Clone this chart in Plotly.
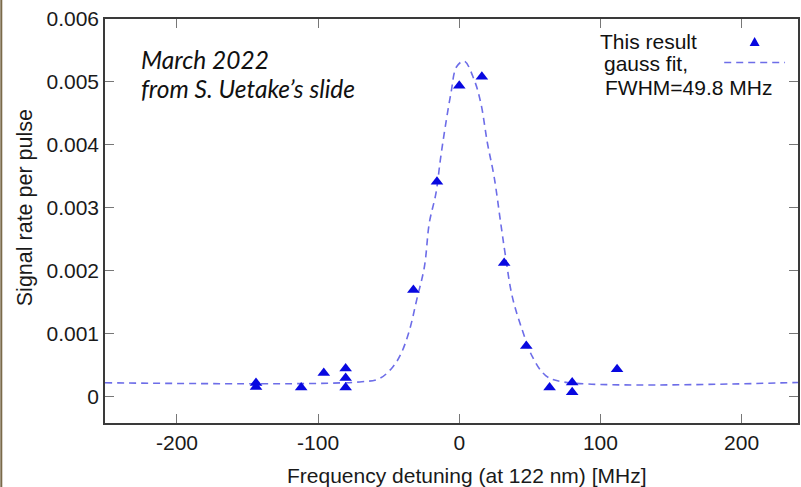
import plotly.graph_objects as go

# ---- data ----
detuning_mhz = [-144, -144, -112, -96, -80.5, -80.5, -80.5, -32.5, -15.8, 0, 16, 31.8, 47.5, 64, 80, 80, 111.8]
signal_rate = [0.000212, 0.000148, 0.000138, 0.000371, 0.000441, 0.000292, 0.000138,
               0.00169, 0.00341, 0.00494, 0.00508, 0.00212, 0.00080, 0.000138, 0.000218, 0.000064, 0.00043]

fit_x = [-251, -70.6, -56.5, -47.1, -41.2, -35.3, -30.2, -24.7, -21.2, -16.5, -13.4, -9.9, -5.9, -1.9, 3.5,
         10.6, 15.3, 20.0, 24.7, 29.4, 32.5, 37.6, 44.7, 51.8, 61.2, 73.0, 240]
fit_y = [0.000215, 0.000228, 0.000282, 0.000467, 0.00068, 0.00105, 0.00153, 0.00206, 0.00276, 0.00323, 0.00376,
         0.00429, 0.00482, 0.00524, 0.00533, 0.00503, 0.00466, 0.00402, 0.00349, 0.00275, 0.00227, 0.00158,
         0.00105, 0.00063, 0.00033, 0.00023, 0.00022]

x_ticks = [-200, -100, 0, 100, 200]
x_tick_text = ["-200", "-100", "0", "100", "200"]
y_ticks = [0, 0.001, 0.002, 0.003, 0.004, 0.005, 0.006]
y_tick_text = ["0", "0.001", "0.002", "0.003", "0.004", "0.005", "0.006"]

x_title = "Frequency detuning (at 122 nm) [MHz]"
y_title = "Signal rate per pulse"
legend_data = "This result"
legend_fit_1 = "gauss fit,"
legend_fit_2 = "FWHM=49.8 MHz"
note_1 = "March 2022"
note_2 = "from S. Uetake\u2019s slide"

# ---- layout geometry (pixels) ----
W, H = 801, 487
L, R, T, B = 105, 800, 19, 423


def px(xp):
    return (xp - L) / (R - L)


def py(yp):
    return (B - yp) / (B - T)


FONT = "Liberation Sans, Arial, sans-serif"
FS = 21

fig = go.Figure()
fig.add_trace(go.Scatter(
    x=fit_x, y=fit_y, mode="lines", line=dict(color="#6d6de8", width=1.6, dash="7px,5px", shape="spline"),
    showlegend=False, hoverinfo="skip"))
fig.add_trace(go.Scatter(
    x=detuning_mhz, y=signal_rate, mode="markers",
    marker=dict(symbol="triangle-up", size=11, color="#0808e0", line=dict(width=0)),
    showlegend=False))

axis_common = dict(showline=True, linecolor="#3a3a3a", linewidth=1.5, mirror="ticks",
                   ticks="inside", ticklen=9, tickcolor="#777777", tickwidth=1,
                   showgrid=False, zeroline=False,
                   tickfont=dict(family=FONT, size=FS, color="#1a1a1a"))

fig.update_xaxes(range=[-251, 240], tickvals=x_ticks, ticktext=x_tick_text, **axis_common)
fig.update_yaxes(range=[-0.000425, 0.006], tickvals=y_ticks, ticktext=y_tick_text, **axis_common)

ann = []
ann.append(dict(text=x_title, x=px(468), y=py(476), xref="paper", yref="paper", showarrow=False,
                xanchor="center", yanchor="middle", font=dict(family=FONT, size=FS, color="#1a1a1a")))
ann.append(dict(text=y_title, x=px(25), y=py(208), xref="paper", yref="paper", showarrow=False, textangle=-90,
                xanchor="center", yanchor="middle", font=dict(family=FONT, size=21.5, color="#1a1a1a")))
ann.append(dict(text=legend_data, x=px(599), y=py(41.5), xref="paper", yref="paper", showarrow=False,
                xanchor="left", yanchor="middle", font=dict(family=FONT, size=FS, color="#111111")))
ann.append(dict(text=legend_fit_1, x=px(603), y=py(64), xref="paper", yref="paper", showarrow=False,
                xanchor="left", yanchor="middle", font=dict(family=FONT, size=FS, color="#111111")))
ann.append(dict(text=legend_fit_2, x=px(604), y=py(87.5), xref="paper", yref="paper", showarrow=False,
                xanchor="left", yanchor="middle", font=dict(family=FONT, size=FS, color="#111111")))
ann.append(dict(text="<i>" + note_1 + "</i>", x=px(139), y=py(60), xref="paper", yref="paper", showarrow=False,
                xanchor="left", yanchor="middle", font=dict(family="Lato, sans-serif", size=24.5, color="#111111")))
ann.append(dict(text="<i>" + note_2 + "</i>", x=px(139), y=py(88), xref="paper", yref="paper", showarrow=False,
                xanchor="left", yanchor="middle", font=dict(family="Lato, sans-serif", size=24.5, color="#111111")))

shapes = []
# legend key: triangle
shapes.append(dict(type="path", xref="paper", yref="paper", xsizemode="pixel", ysizemode="pixel",
                   xanchor=px(756.5), yanchor=py(42),
                   path="M -5 -4 L 5 -4 L 0 5 Z", fillcolor="#0808e0", line=dict(width=0)))
# legend key: dashed line
shapes.append(dict(type="line", xref="paper", yref="paper", x0=px(726), x1=px(787), y0=py(62.5), y1=py(62.5),
                   line=dict(color="#6d6de8", width=1.6, dash="7px,5px")))
# thin brownish frame edge at the far left of the picture
shapes.append(dict(type="line", xref="paper", yref="paper", x0=px(1), x1=px(1), y0=py(0), y1=py(487),
                   line=dict(color="#7a6a4a", width=2)))

fig.update_layout(width=W, height=H, margin=dict(l=L, r=W - R, t=T, b=H - B),
                  paper_bgcolor="white", plot_bgcolor="white",
                  annotations=ann, shapes=shapes, showlegend=False)

fig.write_html("out.html", config={"displayModeBar": False},
               post_script="document.body.style.margin='0';document.body.style.overflow='hidden';")
